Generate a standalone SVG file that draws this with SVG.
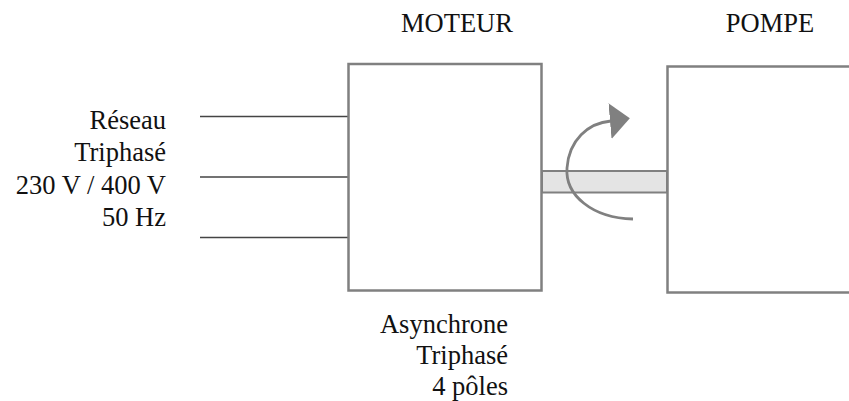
<svg xmlns="http://www.w3.org/2000/svg" width="849" height="401" viewBox="0 0 849 401">
<style>
text{font-family:"Liberation Serif","Times New Roman",serif;font-size:26.5px;fill:#111}
.box{fill:#fff;stroke:#808080;stroke-width:2.5}
.wire{stroke:#444;stroke-width:1.4;fill:none}
</style>
<defs>
<marker id="ah" markerUnits="userSpaceOnUse" markerWidth="30" markerHeight="40" refX="1" refY="18" orient="auto" viewBox="0 0 30 40">
<path d="M0 0 L20 17 L0 36 Z" fill="#808080"/>
</marker>
</defs>
<rect width="849" height="401" fill="#fff"/>
<g id="reseau">
<text x="166" y="129" text-anchor="end">Réseau</text>
<text x="166" y="161" text-anchor="end">Triphasé</text>
<text x="166" y="194" text-anchor="end">230 V / 400 V</text>
<text x="166" y="226" text-anchor="end">50 Hz</text>
</g>
<g id="connectors">
<line class="wire" x1="200" y1="116.5" x2="348" y2="116.5"/>
<line class="wire" x1="200" y1="177" x2="348" y2="177"/>
<line class="wire" x1="200" y1="237.5" x2="348" y2="237.5"/>
<rect x="542" y="171" width="125" height="21.5" fill="#e4e4e4" stroke="#808080" stroke-width="2"/>
<path d="M633 219 C592 218 565 195 567 168 C569 140 588 123 611 121" fill="none" stroke="#808080" stroke-width="2.8" marker-end="url(#ah)"/>
</g>
<g id="moteur">
<text x="457" y="32" text-anchor="middle">MOTEUR</text>
<rect class="box" x="348.5" y="64" width="193" height="226.5"/>
<text x="508" y="333" text-anchor="end">Asynchrone</text>
<text x="508" y="364" text-anchor="end">Triphasé</text>
<text x="508" y="395" text-anchor="end">4 pôles</text>
</g>
<g id="pompe">
<text x="770" y="32" text-anchor="middle">POMPE</text>
<rect class="box" x="667.5" y="66.5" width="200" height="226"/>
</g>
</svg>
